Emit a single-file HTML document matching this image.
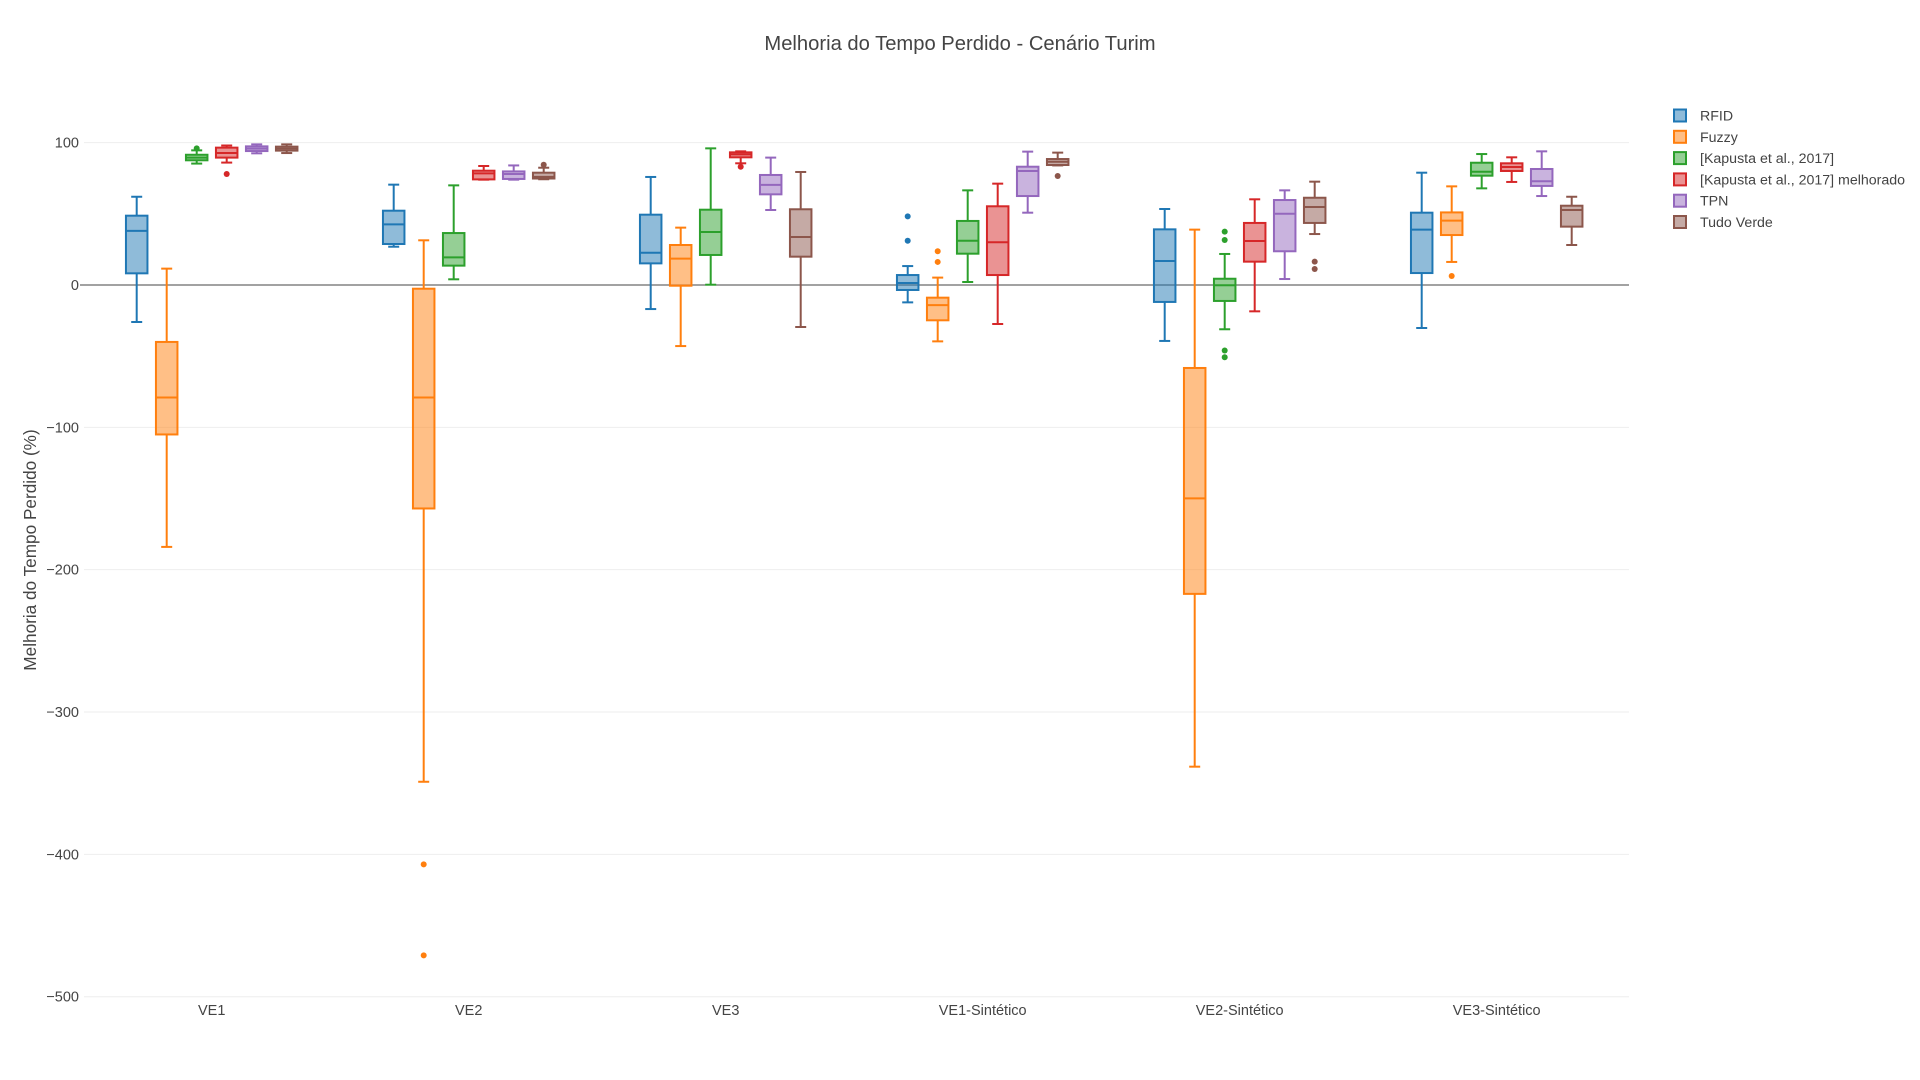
<!DOCTYPE html>
<html><head><meta charset="utf-8"><title>Melhoria do Tempo Perdido - Cenário Turim</title>
<style>
html,body{margin:0;padding:0;background:#fff;}
svg{display:block;font-family:"Liberation Sans",Arial,sans-serif;}
</style></head>
<body>
<svg id="chart" width="1920" height="1080" viewBox="0 0 1920 1080" xmlns="http://www.w3.org/2000/svg">
<rect width="1920" height="1080" fill="#fff"/>
<text x="960" y="50" text-anchor="middle" font-size="20.2" fill="#444">Melhoria do Tempo Perdido - Cenário Turim</text>
<text transform="translate(36,550) rotate(-90)" text-anchor="middle" font-size="17.2" fill="#444">Melhoria do Tempo Perdido (%)</text>
<g id="grid"></g>
<g id="yticks"></g>
<g id="xticks"></g>
<g id="boxes"></g>
<g id="legend"></g>
</svg>
<script>
const categories = ["VE1","VE2","VE3","VE1-Sintético","VE2-Sintético","VE3-Sintético"];
const seriesNames = ["RFID","Fuzzy","[Kapusta et al., 2017]","[Kapusta et al., 2017] melhorado","TPN","Tudo Verde"];
const seriesColors = ["#1f77b4","#ff7f0e","#2ca02c","#d62728","#9467bd","#8c564b"];
const yTicks = [100,0,-100,-200,-300,-400,-500];
const yTickLabels = ["100","0","−100","−200","−300","−400","−500"];
// each entry: [low, q1, median, q3, high] per category
const rfidStats = [[-26,8.2,38,48.7,62],[26.9,28.8,42.6,52.2,70.5],[-16.9,15.2,22.7,49.4,75.9],[-12.2,-3.5,1.4,7,13.3],[-39.3,-11.9,16.9,39.1,53.4],[-30.2,8.4,38.9,50.8,78.9]];
const fuzzyStats = [[-184,-105,-79,-40,11.5],[-349,-157,-79,-2.6,31.4],[-42.9,-0.5,18.5,28.1,40.3],[-39.6,-24.8,-14.1,-8.9,5.2],[-338.4,-217,-149.9,-58.3,38.9],[16.2,35.1,45.2,51,69.3]];
const kapustaStats = [[85.3,87.6,89.5,91.5,94.6],[4,13.6,19.4,36.5,70],[0.2,21.1,37.2,52.9,96],[2.1,22,31.1,45,66.5],[-31.1,-11.2,-0.2,4.4,21.8],[67.9,76.8,79.6,85.9,92]];
const kapustaMelhStats = [[86,89.5,92.7,96.5,98],[74,74.2,78.4,80.3,83.6],[85.5,89.7,91.8,93.2,93.9],[-27.4,7,30,55.3,71.2],[-18.5,16.4,30.9,43.6,60.2],[72.4,80.1,82.9,85.5,89.7]];
const tpnStats = [[92.5,94.1,95.8,97.4,98.8],[74,74.5,78,79.8,84],[52.7,63.7,70.3,77.3,89.5],[50.8,62.5,80.1,83.1,93.7],[4.2,23.7,50.1,59.7,66.5],[62.5,69.6,72.9,81.5,93.9]];
const tudoVerdeStats = [[92.7,94.4,95.8,97.2,98.8],[74.3,74.8,76,78.9,82.4],[-29.5,19.9,33.7,53.2,79.4],[84,84.3,86.6,88.5,93],[35.8,43.6,54.8,61.3,72.6],[28.1,41,52.7,55.7,62]];
const rfidOutliers = [[],[],[],[48.2,31.1],[],[]];
const fuzzyOutliers = [[],[-407,-471],[],[23.7,16.2],[],[6.3]];
const kapustaOutliers = [[96],[],[],[],[37.5,31.6,-46,-50.8],[]];
const kapustaMelhOutliers = [[78],[],[83.1],[],[],[]];
const tpnOutliers = [[],[],[],[],[],[]];
const tudoVerdeOutliers = [[],[84.5],[],[76.6],[16.4,11.2],[]];

const allStats=[rfidStats,fuzzyStats,kapustaStats,kapustaMelhStats,tpnStats,tudoVerdeStats];
const allOut=[rfidOutliers,fuzzyOutliers,kapustaOutliers,kapustaMelhOutliers,tpnOutliers,tudoVerdeOutliers];
const NS="http://www.w3.org/2000/svg";
const plotL=84, plotR=1629;
function yScale(v){return 285-1.4234*v;}
function xCenter(ci){return 211.7+257*ci;}
function xBox(ci,si){return xCenter(ci)+(si-2.5)*30;}
function mk(tag,attrs,parent){const e=document.createElementNS(NS,tag);for(const k in attrs)e.setAttribute(k,attrs[k]);parent.appendChild(e);return e;}

const grid=document.getElementById('grid'), yt=document.getElementById('yticks'), xt=document.getElementById('xticks');
yTicks.forEach((t,i)=>{
  const y=yScale(t);
  const ln=mk('line',{x1:t===0?80:plotL,x2:plotR,y1:y,y2:y,stroke:t===0?'#444':'#eee','stroke-width':1},grid);
  
  
  const tx=mk('text',{x:79,y:y+5,'text-anchor':'end','font-size':14.5,fill:'#444'},yt);
  tx.textContent=yTickLabels[i];
  
  
});
categories.forEach((c,i)=>{
  const tx=mk('text',{x:xCenter(i),y:1015,'text-anchor':'middle','font-size':14.5,fill:'#444'},xt);
  tx.textContent=c;
  
  
});
const boxes=document.getElementById('boxes');
const bw=21.5, cw=11;
allStats.forEach((stats,si)=>{
  const col=seriesColors[si];
  stats.forEach((s,ci)=>{
    const g=mk('g',{},boxes);
    
    
    const x=xBox(ci,si);
    const [lo,q1,md,q3,hi]=s;
    mk('line',{x1:x,x2:x,y1:yScale(hi),y2:yScale(q3),stroke:col,'stroke-width':2},g);
    mk('line',{x1:x,x2:x,y1:yScale(q1),y2:yScale(lo),stroke:col,'stroke-width':2},g);
    mk('line',{x1:x-cw/2,x2:x+cw/2,y1:yScale(hi),y2:yScale(hi),stroke:col,'stroke-width':2},g);
    mk('line',{x1:x-cw/2,x2:x+cw/2,y1:yScale(lo),y2:yScale(lo),stroke:col,'stroke-width':2},g);
    mk('rect',{x:x-bw/2,y:yScale(q3),width:bw,height:Math.max(1,yScale(q1)-yScale(q3)),fill:col,'fill-opacity':0.5,stroke:col,'stroke-width':2},g);
    mk('line',{x1:x-bw/2,x2:x+bw/2,y1:yScale(md),y2:yScale(md),stroke:col,'stroke-width':2},g);
    allOut[si][ci].forEach(o=>{
      const c=mk('circle',{cx:x,cy:yScale(o),r:3,fill:col},g);
      
      
    });
  });
});
const lg=document.getElementById('legend');
seriesNames.forEach((n,i)=>{
  const y=115.5+21.3*i;
  const g=mk('g',{},lg);
  
  
  mk('rect',{x:1674,y:y-6,width:12,height:12,fill:seriesColors[i],'fill-opacity':0.5,stroke:seriesColors[i],'stroke-width':2},g);
  const t=mk('text',{x:1700,y:y+5,'font-size':14.2,fill:'#444'},g);
  t.textContent=n;
});
</script>
</body></html>
